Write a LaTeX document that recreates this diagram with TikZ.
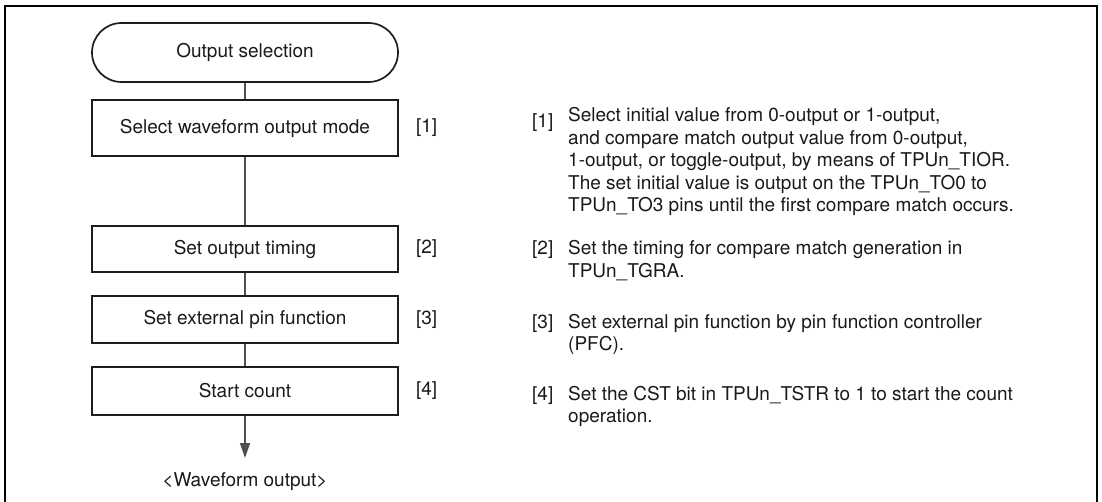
\documentclass[tikz,border=0pt]{standalone}
\usepackage{fontspec}
\setmainfont{TeX Gyre Heros}
\usetikzlibrary{arrows.meta}
\definecolor{txt}{HTML}{1A1A1A}
\definecolor{edge}{HTML}{1E1E1E}
\definecolor{conn}{HTML}{505050}
\begin{document}
\begin{tikzpicture}[x=1pt,y=-1pt,
  every node/.style={font=\fontsize{19}{22.5}\selectfont, text=txt, inner sep=0pt},
  stepbox/.style={draw=edge, line width=1.7pt, rectangle, minimum width=306pt},
  termbox/.style={draw=edge, line width=1.7pt, rectangle, rounded corners=29.5pt,
                  minimum width=306pt, minimum height=59pt},
  conline/.style={draw=conn, line width=1.3pt},
  frameline/.style={draw=black, line width=2.6pt},
  ln/.style={anchor=base west}
]
\useasboundingbox (0,0) rectangle (1102,502);
\fill[white] (0,0) rectangle (1102,502);
% outer frame (open at bottom)
\draw[frameline] (5,510) -- (5,6) -- (1097,6) -- (1097,510);

% flowchart
\node[termbox] (term) at (245,52.5) {Output selection};
\node[stepbox, minimum height=56pt] (b1) at (245,128) {Select waveform output mode};
\node[stepbox, minimum height=46pt] (b2) at (245,249) {Set output timing};
\node[stepbox, minimum height=47pt] (b3) at (245,319.5) {Set external pin function};
\node[stepbox, minimum height=48pt] (b4) at (245,391) {Start count};
\coordinate (tip) at (245,458);
\node (out) at (245,482) {<Waveform output>};

\draw[conline] (term.south) -- (b1.north);
\draw[conline] (b1.south) -- (b2.north);
\draw[conline] (b2.south) -- (b3.north);
\draw[conline] (b3.south) -- (b4.north);
\draw[conline, -{Triangle[length=15pt,width=10pt]}] (b4.south) -- (tip);

% step labels
\node[anchor=west] (l1) at ([xshift=17pt]b1.east) {[1]};
\node[anchor=west] (l2) at ([xshift=17pt]b2.east) {[2]};
\node[anchor=west] (l3) at ([xshift=17pt]b3.east) {[3]};
\node[anchor=west] (l4) at ([xshift=17pt]b4.east) {[4]};

% notes
\node[ln] (n1) at (532,128) {[1]};
\node[ln] (n1a) at (568,122) {Select initial value from 0-output or 1-output,};
\node[ln] (n1b) at (568,144.5) {and compare match output value from 0-output,};
\node[ln] (n1c) at (568,167) {1-output, or toggle-output, by means of TPUn\_TIOR.};
\node[ln] (n1d) at (568,189.5) {The set initial value is output on the TPUn\_TO0 to};
\node[ln] (n1e) at (568,212) {TPUn\_TO3 pins until the first compare match occurs.};

\node[ln] (n2) at (532,255) {[2]};
\node[ln] (n2a) at (568,255) {Set the timing for compare match generation in};
\node[ln] (n2b) at (568,277.5) {TPUn\_TGRA.};

\node[ln] (n3) at (532,328) {[3]};
\node[ln] (n3a) at (568,328) {Set external pin function by pin function controller};
\node[ln] (n3b) at (568,350.5) {(PFC).};

\node[ln] (n4) at (532,400) {[4]};
\node[ln] (n4a) at (568,400) {Set the CST bit in TPUn\_TSTR to 1 to start the count};
\node[ln] (n4b) at (568,422.5) {operation.};
\end{tikzpicture}
\end{document}
